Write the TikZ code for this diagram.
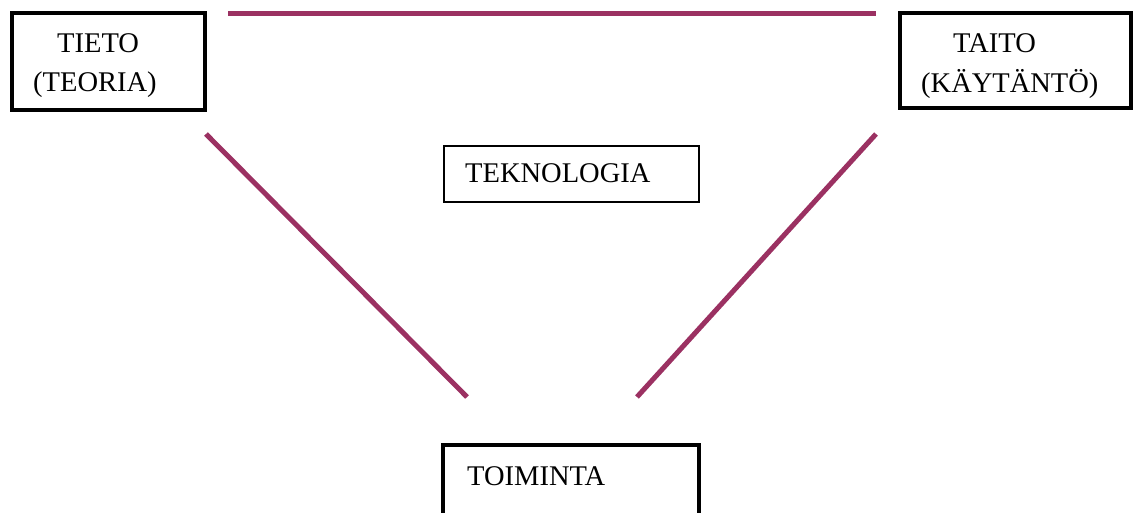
\documentclass[tikz,border=0pt]{standalone}
\usepackage{fontspec}
\setmainfont{Liberation Serif}
\definecolor{linkc}{HTML}{9B3162}
\begin{document}
\begin{tikzpicture}[x=1pt,y=1pt,
  thickbox/.style={draw=black,line width=4pt,inner sep=0pt,outer sep=0pt},
  thinbox/.style={draw=black,line width=1.6pt,inner sep=0pt,outer sep=0pt},
  lbl/.style={anchor=base west,inner sep=0pt,font=\fontsize{28.5}{34}\selectfont},
  link/.style={draw=linkc,line width=5pt}]
\useasboundingbox (0,0) rectangle (1133,-513);
\clip (0,0) rectangle (1133,-513);
% boxes
\node[thickbox,minimum width=193pt,minimum height=97pt] (tieto) at (108.5,-62) {};
\node[thickbox,minimum width=231pt,minimum height=95pt] (taito) at (1015.5,-60.5) {};
\node[thinbox,minimum width=255pt,minimum height=56pt] (tekno) at (571.5,-174) {};
\node[thickbox,minimum width=256pt,minimum height=90pt] (toim) at (571,-490) {};
% texts
\node[lbl] (t1) at (57,-53) {TIETO};
\node[lbl] (t2) at (33,-92) {(TEORIA)};
\node[lbl] (a1) at (953,-53) {TAITO};
\node[lbl] (a2) at (921,-93) {(KÄYTÄNTÖ)};
\node[lbl] (k1) at (465,-183) {TEKNOLOGIA};
\node[lbl] (m1) at (467,-485) {TOIMINTA};
% connector ends
\coordinate (topL) at (228,-13.5);
\coordinate (topR) at (876,-13.5);
\coordinate (lTop) at (206,-134);
\coordinate (lBot) at (467,-397);
\coordinate (rTop) at (876,-134);
\coordinate (rBot) at (637,-397);
\draw[link] (topL) -- (topR);
\draw[link] (lTop) -- (lBot);
\draw[link] (rTop) -- (rBot);
\end{tikzpicture}
\end{document}
